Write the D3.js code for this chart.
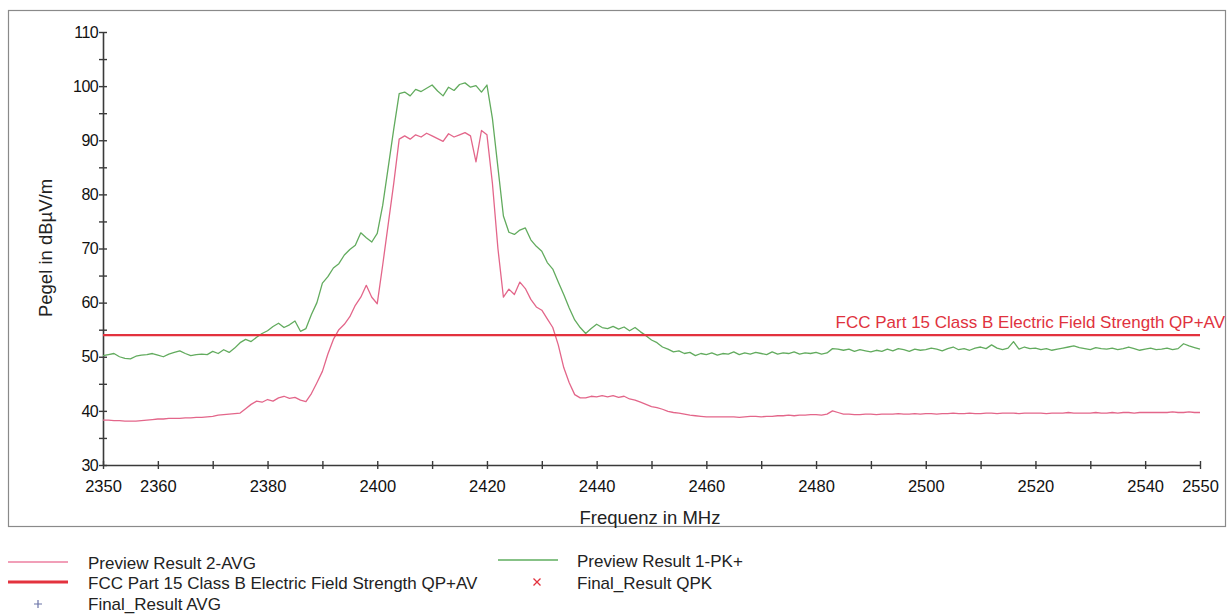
<!DOCTYPE html>
<html><head><meta charset="utf-8">
<script src="https://cdn.jsdelivr.net/npm/d3@7"></script>
<style>
html,body{margin:0;padding:0;background:#fff;}
svg{display:block;font-family:"Liberation Sans",Arial,sans-serif;}
</style></head>
<body>
<svg id="c" width="1229" height="616"></svg>
<script>
// ---- data ----
const freqStart = 2350, freqStep = 1; // MHz
const pkPlus = [
50.2,50.4,50.6,50.0,49.7,49.6,50.1,50.3,50.4,50.6,
50.3,50.0,50.5,50.8,51.1,50.6,50.2,50.4,50.5,50.4,
51.0,50.6,51.3,50.8,51.6,52.6,53.2,52.8,53.6,54.3,
54.8,55.6,56.2,55.4,55.9,56.6,54.7,55.2,57.8,60.0,
63.6,64.8,66.4,67.2,68.8,69.8,70.6,72.9,72.0,71.2,
72.8,78.0,85.0,92.0,98.6,98.9,98.2,99.4,99.0,99.6,
100.2,99.1,98.2,99.8,99.2,100.3,100.6,99.8,100.1,98.9,
100.2,94.0,85.0,76.0,73.0,72.6,73.4,73.8,71.6,70.4,
69.5,67.4,66.2,63.8,61.5,59.0,56.8,55.4,54.3,55.2,
56.0,55.4,55.2,55.6,55.1,55.5,54.8,55.4,54.6,53.9,
53.1,52.6,51.8,51.4,50.9,51.1,50.6,50.8,50.2,50.6,
50.4,50.7,50.3,50.6,50.5,50.9,50.4,50.7,50.5,50.8,
50.6,50.4,50.9,50.5,50.7,50.6,50.9,50.5,50.7,50.6,
50.8,50.5,50.7,51.5,51.4,51.2,51.4,51.0,51.3,51.1,
50.9,51.2,51.0,51.4,51.1,51.5,51.3,51.0,51.4,51.2,
51.3,51.6,51.4,51.1,51.5,51.8,51.3,51.5,51.2,51.6,
51.8,51.5,52.2,51.6,51.3,51.6,52.8,51.4,51.8,51.5,
51.6,51.3,51.5,51.2,51.4,51.6,51.8,52.0,51.7,51.5,
51.3,51.7,51.5,51.4,51.6,51.3,51.5,51.8,51.5,51.2,
51.4,51.6,51.3,51.4,51.6,51.3,51.5,52.4,52.0,51.7,
51.4];
const avg = [
38.3,38.3,38.2,38.2,38.1,38.1,38.1,38.2,38.3,38.4,
38.5,38.5,38.6,38.6,38.6,38.7,38.7,38.8,38.8,38.9,
39.0,39.2,39.3,39.4,39.5,39.6,40.4,41.2,41.8,41.6,
42.1,41.8,42.4,42.7,42.3,42.5,42.0,41.7,43.2,45.2,
47.3,50.5,53.2,55.0,56.0,57.4,59.5,61.0,63.2,61.0,
59.8,67.0,74.5,82.0,90.2,90.8,90.2,91.0,90.6,91.3,
90.8,90.3,89.8,91.2,90.6,91.0,91.4,90.8,86.0,91.8,
91.0,82.0,70.0,61.0,62.5,61.5,63.8,62.6,60.6,59.2,
58.6,57.0,55.4,52.2,48.0,45.2,43.0,42.4,42.4,42.7,
42.6,42.8,42.6,42.8,42.5,42.7,42.2,42.0,41.6,41.2,
40.8,40.6,40.3,39.9,39.7,39.6,39.4,39.2,39.1,39.0,
38.9,38.9,38.9,38.9,38.9,38.9,38.8,38.9,39.0,39.0,
38.9,39.0,39.0,39.1,39.1,39.2,39.1,39.2,39.2,39.3,
39.3,39.2,39.4,40.0,39.7,39.4,39.4,39.3,39.3,39.4,
39.4,39.3,39.4,39.4,39.4,39.5,39.4,39.4,39.5,39.4,
39.5,39.5,39.4,39.5,39.5,39.6,39.5,39.5,39.6,39.5,
39.5,39.6,39.6,39.5,39.6,39.6,39.6,39.5,39.6,39.6,
39.6,39.6,39.5,39.6,39.6,39.6,39.7,39.6,39.6,39.6,
39.6,39.7,39.6,39.6,39.7,39.6,39.7,39.7,39.6,39.7,
39.7,39.7,39.7,39.7,39.7,39.8,39.7,39.7,39.8,39.7,
39.7];
const limitFreqs = [2350, 2550];
const limitVals = [54, 54];
const xTicks = [2350,2360,2370,2380,2390,2400,2410,2420,2430,2440,2450,2460,2470,2480,2490,2500,2510,2520,2530,2540,2550];
const xLabels = [2350,2360,2380,2400,2420,2440,2460,2480,2500,2520,2540,2550];
const yTicks = [30,35,40,45,50,55,60,65,70,75,80,85,90,95,100,105,110];
const yLabels = [30,40,50,60,70,80,90,100,110];
const limitName = "FCC Part 15 Class B Electric Field Strength QP+AV";
const legendItems = [
  {name:"Preview Result 2-AVG", kind:"line", color:"#ec7fa0", w:1.5, col:0, row:0},
  {name:"FCC Part 15 Class B Electric Field Strength QP+AV", kind:"line", color:"#e3323e", w:2.8, col:0, row:1},
  {name:"Final_Result AVG", kind:"plus", color:"#6b74a8", col:0, row:2},
  {name:"Preview Result 1-PK+", kind:"line", color:"#5fae5f", w:1.5, col:1, row:0},
  {name:"Final_Result QPK", kind:"cross", color:"#e3323e", col:1, row:1}
];

// ---- layout ----
const svg = d3.select("#c");
const x = d3.scaleLinear().domain([2350,2550]).range([103,1200]);
const y = d3.scaleLinear().domain([30,110]).range([465,32]);

// frame
svg.append("rect").attr("x",8.5).attr("y",10.5).attr("width",1217).attr("height",516)
  .attr("fill","none").attr("stroke","#8a8a8a").attr("stroke-width",1.2);

const axisColor = "#3a3a3a";
// x axis
const gx = svg.append("g").attr("transform","translate(0,465)")
  .call(d3.axisBottom(x).tickValues(xTicks).tickSize(4).tickSizeOuter(0)
    .tickFormat(d => xLabels.includes(d) ? d : ""));
gx.select(".domain").attr("stroke",axisColor).attr("stroke-width",1.6);
gx.selectAll(".tick line").attr("y1",-4).attr("y2",4).attr("stroke",axisColor).attr("stroke-width",1.4);
gx.selectAll(".tick text").attr("y",15).attr("font-size",16.5).attr("fill","#111")
  .attr("font-family","Liberation Sans, Arial, sans-serif");

// y axis
const gy = svg.append("g").attr("transform","translate(103,0)")
  .call(d3.axisLeft(y).tickValues(yTicks).tickSize(4).tickSizeOuter(0)
    .tickFormat(d => yLabels.includes(d) ? d : ""));
gy.select(".domain").attr("stroke",axisColor).attr("stroke-width",1.6);
gy.selectAll(".tick line").attr("x1",-4).attr("x2",4).attr("stroke",axisColor).attr("stroke-width",1.4);
gy.selectAll(".tick text").attr("x",-5).attr("font-size",16).attr("fill","#111")
  .attr("letter-spacing","-0.6")
  .attr("font-family","Liberation Sans, Arial, sans-serif");

// axis titles
svg.append("text").attr("x",650).attr("y",524).attr("text-anchor","middle")
  .attr("font-size",18.5).attr("fill","#222").text("Frequenz in MHz");
svg.append("text").attr("transform","translate(52,248) rotate(-90)").attr("text-anchor","middle")
  .attr("font-size",18.5).attr("fill","#222").text("Pegel in dBµV/m");

// curves
const line = d3.line().x((d,i)=>x(freqStart + i*freqStep)).y(d=>y(d));
svg.append("path").datum(avg).attr("d",line).attr("fill","none")
  .attr("stroke","#e3668a").attr("stroke-width",1.3).attr("stroke-linejoin","round");
svg.append("path").datum(pkPlus).attr("d",line).attr("fill","none")
  .attr("stroke","#62ab5e").attr("stroke-width",1.3).attr("stroke-linejoin","round");

// limit line
const limitData = limitFreqs.map((f,i)=>[f,limitVals[i]]);
svg.append("path").datum(limitData)
  .attr("d", d3.line().x(d=>x(d[0])).y(d=>y(d[1])))
  .attr("fill","none").attr("stroke","#e3323e").attr("stroke-width",2.2);
svg.append("text").attr("x",1225).attr("y",y(limitVals[1])-7).attr("text-anchor","end")
  .attr("font-size",17).attr("fill","#e0323e").text(limitName);

// legend
const colX = [[8,68,88],[498,558,577]];
const rowY = [563,583,604];
legendItems.forEach(it=>{
  const [x0,x1,tx] = colX[it.col];
  const yy = rowY[it.row] - (it.col===1 && it.row===0 ? 2 : 0);
  if(it.kind==="line"){
    svg.append("line").attr("x1",x0).attr("x2",x1).attr("y1",yy-1).attr("y2",yy-1)
      .attr("stroke",it.color).attr("stroke-width",it.w);
  } else if(it.kind==="plus"){
    const cx = 38, cy = yy;
    svg.append("path").attr("d",`M${cx-4},${cy}H${cx+4}M${cx},${cy-4}V${cy+4}`)
      .attr("stroke",it.color).attr("stroke-width",1.2).attr("fill","none");
  } else {
    const cx = 537, cy = yy - 1;
    svg.append("path").attr("d",`M${cx-3.5},${cy-3.5}L${cx+3.5},${cy+3.5}M${cx-3.5},${cy+3.5}L${cx+3.5},${cy-3.5}`)
      .attr("stroke",it.color).attr("stroke-width",1.3).attr("fill","none");
  }
  svg.append("text").attr("x",tx).attr("y",yy+6).attr("font-size",17).attr("fill","#222").text(it.name);
});
</script>
</body></html>
